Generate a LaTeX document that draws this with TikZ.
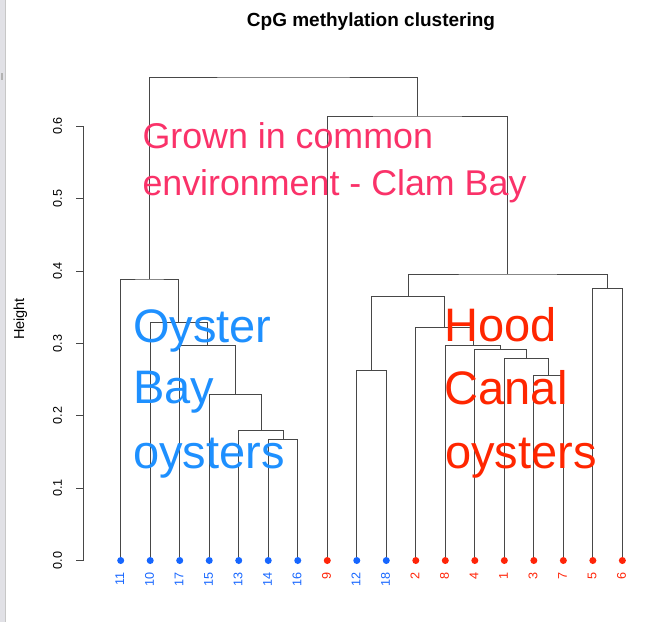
\documentclass[tikz,border=0pt]{standalone}
\usepackage{fontspec}
\setmainfont{Liberation Sans}
\definecolor{pinktxt}{RGB}{250,50,105}
\definecolor{baytxt}{RGB}{30,144,255}
\definecolor{hoodtxt}{RGB}{255,38,0}
\definecolor{leafblue}{RGB}{22,102,255}
\definecolor{leafred}{RGB}{255,36,8}
\definecolor{stripgray}{RGB}{225,225,230}
\begin{document}
\begin{tikzpicture}[x=1pt,y=-1pt,
  link/.style={draw=black!72,line width=0.8pt},
  leafdot/.style={circle,inner sep=0pt,minimum size=7pt},
  leaflab/.style={rotate=90,anchor=mid east,inner sep=0pt,font=\fontsize{12.6}{13}\selectfont},
  ticklab/.style={rotate=90,anchor=mid,inner sep=0pt,font=\fontsize{12.6}{13}\selectfont},
  grown/.style={anchor=base west,inner sep=0pt,text=pinktxt,font=\fontsize{35.8}{36}\selectfont},
  baylab/.style={anchor=base west,inner sep=0pt,text=baytxt,font=\fontsize{47}{47}\selectfont},
  hoodlab/.style={anchor=base west,inner sep=0pt,text=hoodtxt,font=\fontsize{47}{47}\selectfont}]
\useasboundingbox (0,0) rectangle (667,622);
\fill[white] (0,0) rectangle (667,622);
% left window strip
\fill[stripgray] (0,0) rectangle (5,622);
\draw[black!22,line width=0.6pt] (5.3,0) -- (5.3,622);
\fill[black!30] (0.5,73) rectangle (1.2,80);
\fill[black!30] (2.0,73) rectangle (2.7,80);
% leaf positions
\foreach \lab/\i in {11/0,10/1,17/2,15/3,13/4,14/5,16/6,9/7,12/8,18/9,2/10,8/11,4/12,1/13,3/14,7/15,5/16,6/17}
  {\coordinate (p\lab) at ({120.7+29.51*\i},560.5);}
% merge points
\coordinate (mA) at (283.0,439.3);
\coordinate (mB) at (260.9,430.3);
\coordinate (mC) at (235.0,394.7);
\coordinate (mD) at (207.4,345.3);
\coordinate (mE) at (178.8,322.7);
\coordinate (mF) at (149.7,279.0);
\coordinate (mG) at (371.5,370.3);
\coordinate (mH) at (548.6,375.3);
\coordinate (mI) at (526.5,358.3);
\coordinate (mJ) at (500.6,349.3);
\coordinate (mK) at (473.0,345.3);
\coordinate (mL) at (444.4,327.3);
\coordinate (mM) at (407.9,296.3);
\coordinate (mN) at (607.6,288.3);
\coordinate (mO) at (507.8,274.0);
\coordinate (mP) at (417.5,116.0);
\coordinate (mQ) at (283.6,77.0);
% dendrogram links
\draw[link] (p14) |- (mA) -| (p16);
\draw[link] (p13) |- (mB) -| (mA);
\draw[link] (p15) |- (mC) -| (mB);
\draw[link] (p17) |- (mD) -| (mC);
\draw[link] (p10) |- (mE) -| (mD);
\draw[link] (p11) |- (mF) -| (mE);
\draw[link] (p12) |- (mG) -| (p18);
\draw[link] (p3) |- (mH) -| (p7);
\draw[link] (p1) |- (mI) -| (mH);
\draw[link] (p4) |- (mJ) -| (mI);
\draw[link] (p8) |- (mK) -| (mJ);
\draw[link] (p2) |- (mL) -| (mK);
\draw[link] (mG) |- (mM) -| (mL);
\draw[link] (p5) |- (mN) -| (p6);
\draw[link] (mM) |- (mO) -| (mN);
\draw[link] (p9) |- (mP) -| (mO);
\draw[link] (mF) |- (mQ) -| (mP);
% leaf dots and labels
\foreach \lab/\i/\col in {11/0/leafblue,10/1/leafblue,17/2/leafblue,15/3/leafblue,13/4/leafblue,14/5/leafblue,16/6/leafblue,9/7/leafred,12/8/leafblue,18/9/leafblue,2/10/leafred,8/11/leafred,4/12/leafred,1/13/leafred,3/14/leafred,7/15/leafred,5/16/leafred,6/17/leafred}
  {\node[leafdot,fill=\col] (d\lab) at (p\lab) {};
   \node[leaflab,text=\col] (t\lab) at ({121.6+29.51*\i},572) {\lab};}
% axis
\draw[link] (83.5,560.5) -- (83.5,126.1);
\foreach \k in {0,...,6}
  {\draw[link] (76,{560.5-72.4*\k}) -- (83.5,{560.5-72.4*\k});
   \node[ticklab] (tick\k) at (59.3,{560.5-72.4*\k}) {0.\k};}
\node[rotate=90,anchor=mid,inner sep=0pt,font=\fontsize{14.5}{15}\selectfont] (ylab) at (21.5,319) {Height};
% title
\node[anchor=base,inner sep=0pt,font=\bfseries\fontsize{19}{19}\selectfont] (title) at (371,26.7) {CpG methylation clustering};
% annotations
\node[grown] (g1) at (142.3,148.3) {Grown in common};
\node[grown] (g2) at (142.3,195) {environment - Clam Bay};
\node[baylab] (b1) at (133,342) {Oyster};
\node[baylab] (b2) at (133,403) {Bay};
\node[baylab] (b3) at (133,468) {oysters};
\node[hoodlab] (h1) at (444.5,341.7) {Hood};
\node[hoodlab] (h2) at (444.5,404) {Canal};
\node[hoodlab] (h3) at (445,468) {oysters};
\end{tikzpicture}
\end{document}
